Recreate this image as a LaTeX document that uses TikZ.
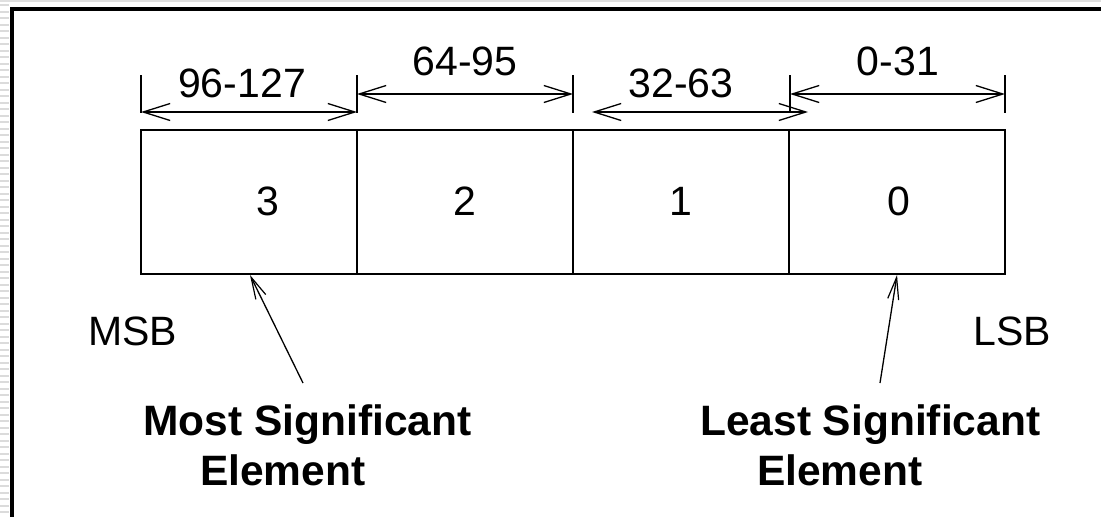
\documentclass[tikz,border=0pt]{standalone}
\usepackage{fontspec}
\setmainfont[Ligatures=NoCommon]{Liberation Sans}
\usetikzlibrary{arrows.meta}
\begin{document}
\begin{tikzpicture}[x=1pt, y=-1pt,
  txt/.style={font=\fontsize{41}{49}\selectfont, inner sep=0pt},
  bold/.style={font=\fontsize{42.5}{50}\selectfont\bfseries, inner sep=0pt, anchor=base west},
  cell/.style={draw, line width=1.5pt, minimum width=216pt, minimum height=144pt, inner sep=0pt},
  tick/.style={line width=1.5pt},
  dim/.style={line width=1.5pt, {Straight Barb[length=27pt,width=17pt,line width=1.3pt]}-{Straight Barb[length=27pt,width=17pt,line width=1.3pt]}},
  pointer/.style={line width=1.3pt, -{Straight Barb[length=22pt,width=11pt,line width=1.2pt]}},
]
\useasboundingbox (0,0) rectangle (1101,517);
\fill[white] (0,0) rectangle (1101,517);

% frame edge: light striped strip on the left, thin grey line on top
\fill[black!12] (0,0) rectangle (1101,2);
\foreach \yy in {4,10.5,...,517} \fill[black!14] (0,\yy) rectangle (9,\yy+2.2);
\fill[black] (10,7) rectangle (1101,10.7);
\fill[black] (10,7) rectangle (14,517);

% the four 32-bit elements
\node[cell] (c3) at (249,202) {};
\node[cell] (c2) at (465,202) {};
\node[cell] (c1) at (681,202) {};
\node[cell] (c0) at (897,202) {};

\node[txt, anchor=base] (n3) at (268,215) {3};
\node[txt, anchor=base] (n2) at (465,215) {2};
\node[txt, anchor=base] (n1) at (681,215) {1};
\node[txt, anchor=base] (n0) at (899,215) {0};

% extension lines for the bit ranges
\coordinate (t0a) at (141,75);  \coordinate (t0b) at (141,113);
\coordinate (t1a) at (357,75);  \coordinate (t1b) at (357,113);
\coordinate (t2a) at (573,75);  \coordinate (t2b) at (573,113);
\coordinate (t3a) at (790,75);  \coordinate (t3b) at (790,113);
\coordinate (t4a) at (1005,75); \coordinate (t4b) at (1005,113);
\foreach \k in {0,...,4} \draw[tick] (t\k a) -- (t\k b);

% bit-range dimension arrows
\coordinate (d3l) at (141,112); \coordinate (d3r) at (357,112);
\coordinate (d2l) at (357,94);  \coordinate (d2r) at (573,94);
\coordinate (d1l) at (592,112); \coordinate (d1r) at (808,112);
\coordinate (d0l) at (790,94);  \coordinate (d0r) at (1005,94);
\draw[dim] (d3l) -- (d3r);
\draw[dim] (d2l) -- (d2r);
\draw[dim] (d1l) -- (d1r);
\draw[dim] (d0l) -- (d0r);

\node[txt, anchor=base] (r3) at (242,97) {96-127};
\node[txt, anchor=base] (r2) at (465,75) {64-95};
\node[txt, anchor=base] (r1) at (681,97) {32-63};
\node[txt, anchor=base] (r0) at (898,75) {0-31};

% end labels
\node[txt, anchor=base west] (msb) at (88,345) {MSB};
\node[txt, anchor=base west] (lsb) at (973,345) {LSB};

% captions
\node[bold] (mse1) at (143,435) {Most Significant};
\node[bold] (mse2) at (200,485) {Element};
\node[bold] (lse1) at (700,435) {Least Significant};
\node[bold] (lse2) at (757,485) {Element};

% pointers from captions to elements
\coordinate (mstail) at (303,383);
\coordinate (mshead) at (250,275);
\coordinate (lstail) at (880,383);
\coordinate (lshead) at (897,275);
\draw[pointer] (mstail) -- (mshead);
\draw[pointer] (lstail) -- (lshead);
\end{tikzpicture}
\end{document}
